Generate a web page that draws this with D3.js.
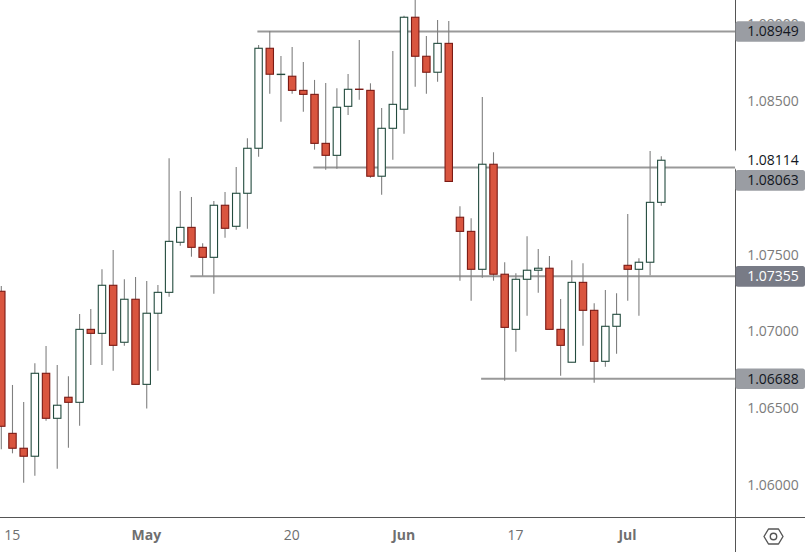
<!DOCTYPE html>
<html>
<head>
<meta charset="utf-8">
<title>EUR/USD daily</title>
<script src="https://cdn.jsdelivr.net/npm/d3@7"></script>
<style>
	html, body { margin: 0; padding: 0; background: #fff; }
	svg { display: block; }
	text { font-family: "Open Sans", sans-serif; }
</style>
</head>
<body>
<svg id="chart" width="805" height="552"></svg>
<script>
// trading days, one candle each
var dates = [
	'Apr 12','Apr 15','Apr 16','Apr 17','Apr 18','Apr 19','Apr 22','Apr 23','Apr 24','Apr 25','Apr 26','Apr 29','Apr 30',
	'May 1','May 2','May 3','May 6','May 7','May 8','May 9','May 10','May 13','May 14','May 15','May 16','May 17',
	'May 20','May 21','May 22','May 23','May 24','May 27','May 28','May 29','May 30','May 31',
	'Jun 3','Jun 4','Jun 5','Jun 6','Jun 7','Jun 10','Jun 11','Jun 12','Jun 13','Jun 14',
	'Jun 17','Jun 18','Jun 19','Jun 20','Jun 21','Jun 24','Jun 25','Jun 26','Jun 27','Jun 28',
	'Jul 1','Jul 2','Jul 3','Jul 4'
]
var opens = [
	1.07258,1.06333,1.06236,1.06184,1.06724,1.06431,1.06568,1.06535,1.07010,1.06984,1.07297,1.06926,1.07206,1.06652,
	1.07115,1.07251,1.07577,1.07674,1.07544,1.07479,1.07818,1.07681,1.07896,1.08189,1.08840,1.08671,1.08658,1.08566,
	1.08540,1.08221,1.08143,1.08462,1.08574,1.08566,1.08007,1.08319,1.08443,1.09042,1.08788,1.08684,1.08872,1.07740,
	1.07648,1.07401,1.08085,1.07369,1.07010,1.07336,1.07395,1.07408,1.07010,1.06796,1.07316,1.07134,1.06802,1.07030,
	1.07427,1.07401,1.07447,1.07837
]
var highs = [
	1.07292,1.06648,1.06537,1.06789,1.06902,1.06778,1.06704,1.07110,1.07143,1.07401,1.07527,1.07336,1.07351,1.07325,
	1.07299,1.08124,1.07911,1.07872,1.07570,1.07846,1.07904,1.08067,1.08254,1.08861,1.08953,1.08790,1.08848,1.08751,
	1.08634,1.08614,1.08579,1.08673,1.08894,1.08612,1.08451,1.08822,1.09052,1.09161,1.08920,1.09024,1.09018,1.07811,
	1.07733,1.08523,1.08163,1.07447,1.07375,1.07616,1.07533,1.07488,1.07208,1.07460,1.07440,1.07180,1.07266,1.07245,
	1.07761,1.07473,1.08171,1.08137
]
var lows = [
	1.06229,1.06203,1.06012,1.06057,1.06415,1.06103,1.06240,1.06383,1.06778,1.06778,1.06741,1.06904,1.06652,1.06494,
	1.06741,1.07223,1.07555,1.07483,1.07359,1.07242,1.07607,1.07659,1.07665,1.08134,1.08544,1.08362,1.08544,1.08427,
	1.08180,1.08049,1.08056,1.08406,1.08505,1.07997,1.07887,1.08115,1.08284,1.08590,1.08544,1.08622,1.07973,1.07327,
	1.07197,1.07346,1.07327,1.06676,1.06865,1.07099,1.07249,1.07010,1.06708,1.06796,1.06904,1.06663,1.06767,1.06852,
	1.07197,1.07099,1.07362,1.07815
]
var closes = [
	1.06379,1.06236,1.06184,1.06724,1.06431,1.06516,1.06535,1.07010,1.06984,1.07297,1.06906,1.07206,1.06652,1.07115,
	1.07251,1.07583,1.07674,1.07544,1.07479,1.07818,1.07668,1.07896,1.08189,1.08840,1.08671,1.08671,1.08566,1.08540,
	1.08221,1.08143,1.08456,1.08573,1.08572,1.08007,1.08319,1.08475,1.09042,1.08788,1.08684,1.08872,1.07973,1.07648,
	1.07401,1.08085,1.07369,1.07023,1.07336,1.07395,1.07408,1.07010,1.06906,1.07316,1.07134,1.06802,1.07030,1.07108,
	1.07401,1.07447,1.07837,1.08111
]

// support and resistance lines
var levelPrices = [1.08949, 1.08063, 1.07355, 1.06688]
var levelStarts = ['May 15', 'May 22', 'May 7', 'Jun 12']

// price axis, 1.08000 is hidden behind the tags in the picture
var priceTicks = [1.06, 1.065, 1.07, 1.075, 1.085, 1.09]
var lastPrice = 1.08114

// time axis
var timeTicks = ['Apr 15', 'May 1', 'May 20', 'Jun 3', 'Jun 17', 'Jul 1']
var timeLabels = ['15', 'May', '20', 'Jun', '17', 'Jul']

var width = 805, height = 552, plotW = 735.5, plotH = 517.5

var svg = d3.select('#chart')

var x = d3.scalePoint().domain(dates).range([1.3, 661.3])
var y = d3.scaleLinear().domain([1.06, 1.09]).range([484.5, 23.7])

var candles = dates.map(function(d, i){
	return {date: d, open: opens[i], high: highs[i], low: lows[i], close: closes[i]}
})

svg.append('clipPath').attr('id', 'plot-clip')
	.append('rect').attr('width', plotW).attr('height', plotH)

var plot = svg.append('g').attr('clip-path', 'url(#plot-clip)')

// the lines go under the candles
plot.selectAll('line.level').data(levelPrices).enter().append('line')
	.attr('class', 'level')
	.attr('x1', function(d, i){ return x(levelStarts[i]) - 1.2 })
	.attr('x2', plotW)
	.attr('y1', function(d){ return y(d) })
	.attr('y2', function(d){ return y(d) })
	.attr('stroke', '#999999')
	.attr('stroke-width', 2)

var candle = plot.selectAll('g.candle').data(candles).enter().append('g').attr('class', 'candle')

candle.append('line')
	.attr('x1', function(d){ return x(d.date) })
	.attr('x2', function(d){ return x(d.date) })
	.attr('y1', function(d){ return y(d.high) })
	.attr('y2', function(d){ return y(d.low) })
	.attr('stroke', '#808080')
	.attr('stroke-width', 1.1)

candle.append('rect')
	.attr('x', function(d){ return x(d.date) - 3.7 })
	.attr('width', 7.4)
	.attr('y', function(d){ return y(Math.max(d.open, d.close)) })
	.attr('height', function(d){ return Math.max(0.3, Math.abs(y(d.open) - y(d.close))) })
	.attr('fill', function(d){ return d.close < d.open ? '#d9553f' : '#ffffff' })
	.attr('stroke', function(d){ return d.close < d.open ? '#7b1a14' : '#234b3e' })
	.attr('stroke-width', 1.1)

// frame
svg.append('line').attr('x1', plotW).attr('x2', plotW).attr('y1', 0).attr('y2', height)
	.attr('stroke', '#555555').attr('stroke-width', 1)
svg.append('line').attr('x1', 0).attr('x2', width).attr('y1', plotH).attr('y2', plotH)
	.attr('stroke', '#555555').attr('stroke-width', 1)

var timeAxis = d3.axisBottom(x)
	.tickValues(timeTicks)
	.tickSize(0)
	.tickPadding(0)
	.tickFormat(function(d, i){ return timeLabels[i] })

var timeG = svg.append('g').attr('transform', 'translate(-0.8,' + plotH + ')').call(timeAxis)
timeG.select('.domain').remove()
timeG.selectAll('text')
	.attr('y', 17.5)
	.attr('dy', '0.35em')
	.attr('font-size', 14)
	.attr('fill', '#6f6f6f')
	.attr('font-weight', function(d, i){ return isNaN(+timeLabels[i]) ? 700 : 400 })
	.style('font-family', '"Open Sans", sans-serif')

var priceAxis = d3.axisRight(y)
	.tickValues(priceTicks)
	.tickSize(0)
	.tickPadding(0)
	.tickFormat(d3.format('.5f'))

var priceG = svg.append('g').attr('transform', 'translate(' + plotW + ',0)').call(priceAxis)
priceG.select('.domain').remove()
priceG.selectAll('text')
	.attr('x', 37.5)
	.attr('y', 0.5)
	.attr('text-anchor', 'middle')
	.attr('font-size', 14)
	.attr('fill', '#7b7b7b')
	.style('font-family', '"Open Sans", sans-serif')

// price tags, pushed down when they would overlap the one above
var tagH = 20.6
var tags = [{price: lastPrice, last: true}].concat(levelPrices.map(function(p){ return {price: p} }))
	.sort(function(a, b){ return b.price - a.price })
var prevY = -100
tags.forEach(function(t){
	t.cy = Math.max(y(t.price), prevY + tagH)
	prevY = t.cy
})

var tag = svg.selectAll('g.tag').data(tags).enter().append('g').attr('class', 'tag')
	.attr('transform', function(d){ return 'translate(' + plotW + ',' + d.cy + ')' })

tag.append('rect')
	.attr('x', function(d){ return d.last ? -0.5 : 0 })
	.attr('y', -tagH / 2)
	.attr('width', 69.5)
	.attr('height', tagH)
	.attr('rx', 2.5)
	.attr('fill', function(d){
		if (d.last) return '#ffffff'
		return d.price === 1.07355 ? '#787b86' : '#9a9da3'
	})

tag.append('text')
	.attr('x', 37.5)
	.attr('dy', '0.35em')
	.attr('text-anchor', 'middle')
	.attr('font-size', 14)
	.attr('fill', function(d){ return d.price === 1.07355 ? '#ffffff' : '#131722' })
	.text(function(d){ return d3.format('.5f')(d.price) })

// settings icon
var hex = d3.line()
var icon = svg.append('g').attr('transform', 'translate(773.5,536.5)')
icon.append('path')
	.attr('d', hex([[-9.5, 0], [-5, -7.5], [5, -7.5], [9.5, 0], [5, 7.5], [-5, 7.5]]) + 'Z')
	.attr('fill', 'none').attr('stroke', '#555555').attr('stroke-width', 1.4).attr('stroke-linejoin', 'round')
icon.append('circle').attr('r', 3.2)
	.attr('fill', 'none').attr('stroke', '#555555').attr('stroke-width', 1.4)
</script>
</body>
</html>
